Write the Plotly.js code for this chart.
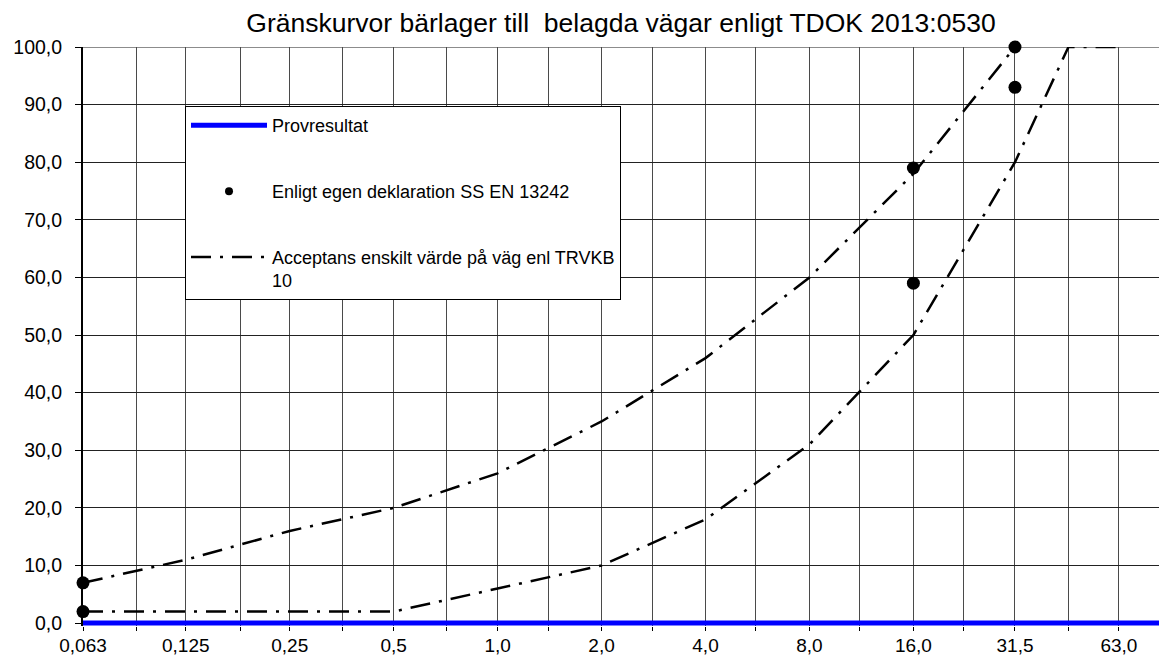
<!DOCTYPE html>
<html>
<head>
<meta charset="utf-8">
<script src="https://cdn.plot.ly/plotly-3.0.1.min.js"></script>
<style>html,body{margin:0;padding:0;background:#fff;}#chart{width:1159px;height:655px;}</style>
</head>
<body>
<div id="chart"></div>
<script>
// Sieve sizes (mm) and tick labels
const mainSieves = [0.063, 0.125, 0.25, 0.5, 1, 2, 4, 8, 16, 31.5, 63];
const tickLabels = ['0,063', '0,125', '0,25', '0,5', '1,0', '2,0', '4,0', '8,0', '16,0', '31,5', '63,0'];
const minorSieves = [0.09, 0.18, 0.355, 0.71, 1.4, 2.8, 5.6, 11.2, 22.4, 45];

// Provresultat (test result)
const provSieves = [0.063, 0.125, 0.25, 0.5, 1, 2, 4, 8, 16, 31.5, 63, 90];
const provValues = [0, 0, 0, 0, 0, 0, 0, 0, 0, 0, 0, 0];

// Declared values (SS EN 13242)
const declSieves = [0.063, 0.063, 16, 16, 31.5, 31.5];
const declValues = [7, 2, 79, 59, 100, 93];

// Acceptance limits (TRVKB 10)
const upperSieves = [0.063, 0.125, 0.25, 0.5, 1, 2, 4, 8, 16, 31.5];
const upperValues = [7, 11, 16, 20, 26, 35, 46, 60, 78, 100];
const lowerSieves = [0.063, 0.125, 0.25, 0.5, 1, 2, 4, 8, 16, 31.5, 45, 63];
const lowerValues = [2, 2, 2, 2, 6, 10, 18, 31, 50, 80, 100, 100];

const FONT = 'Liberation Sans, Arial, sans-serif';
const dashDot = '20px,9px,3px,9px';

const traces = [
  {
    x: provSieves, y: provValues, mode: 'lines', name: 'Provresultat',
    line: {color: '#0000ff', width: 5}, cliponaxis: false, legendgroup: 'a'
  },
  {
    x: [null], y: [null], mode: 'markers', name: 'Enligt egen deklaration SS EN 13242',
    marker: {color: '#000', size: 8}, legendgroup: 'b'
  },
  {
    x: upperSieves, y: upperValues, mode: 'lines',
    name: 'Acceptans enskilt värde på väg enl TRVKB<br>10',
    line: {color: '#000', width: 2.5, dash: dashDot}, cliponaxis: false, legendgroup: 'c'
  },
  {
    x: lowerSieves, y: lowerValues, mode: 'lines', showlegend: false,
    line: {color: '#000', width: 2.5, dash: dashDot}, cliponaxis: false, legendgroup: 'c'
  },
  {
    x: declSieves, y: declValues, mode: 'markers', showlegend: false,
    marker: {color: '#000', size: 13}, cliponaxis: false, legendgroup: 'b'
  }
];

const layout = {
  width: 1159, height: 655,
  margin: {l: 83, r: 0, t: 47, b: 29},
  paper_bgcolor: '#fff', plot_bgcolor: '#fff',
  separators: ', ',
  font: {family: FONT, color: '#000', size: 19.5},
  title: {
    text: 'Gränskurvor bärlager till  belagda vägar enligt TDOK 2013:0530',
    font: {family: FONT, size: 26.5, color: '#000'},
    x: 0.5, xref: 'paper', xanchor: 'center',
    y: 0.966, yref: 'container', yanchor: 'middle'
  },
  xaxis: {
    type: 'log',
    range: [Math.log10(0.063), Math.log10(82.3)],
    tickmode: 'array', tickvals: mainSieves, ticktext: tickLabels,
    ticks: 'outside', ticklen: 4, tickcolor: '#000', tickwidth: 1,
    ticklabelstandoff: -2,
    showgrid: true, gridcolor: '#4a4a4a', gridwidth: 1,
    minor: {tickmode: 'array', tickvals: minorSieves, ticks: 'outside', ticklen: 4,
            tickcolor: '#000', showgrid: true, gridcolor: '#4a4a4a', gridwidth: 1},
    showline: false, zeroline: false,
    tickfont: {family: FONT, size: 19, color: '#000'}
  },
  yaxis: {
    range: [-0.5, 100], tickmode: 'array',
    tickvals: [0, 10, 20, 30, 40, 50, 60, 70, 80, 90, 100], tickformat: '.1f',
    ticks: 'outside', ticklen: 6, tickcolor: '#000', tickwidth: 1,
    showgrid: true, gridcolor: '#222', gridwidth: 1,
    showline: true, linecolor: '#000', linewidth: 2,
    zeroline: false, ticklabelstandoff: 9,
    tickfont: {family: FONT, size: 19.5, color: '#000'}
  },
  shapes: [
    {type: 'line', xref: 'paper', x0: 0, x1: 1, yref: 'y', y0: 100, y1: 100,
     line: {color: '#8c8c8c', width: 2}, layer: 'below'}
  ],
  showlegend: true,
  legend: {
    x: 0.0948, y: 0.898, xanchor: 'left', yanchor: 'top',
    bgcolor: '#fff', bordercolor: '#000', borderwidth: 1,
    font: {family: FONT, size: 18, color: '#000'},
    itemwidth: 76, traceorder: 'grouped', tracegroupgap: 39.5, valign: 'top'
  }
};

Plotly.newPlot('chart', traces, layout, {displayModeBar: false, staticPlot: true});
</script>
</body>
</html>
